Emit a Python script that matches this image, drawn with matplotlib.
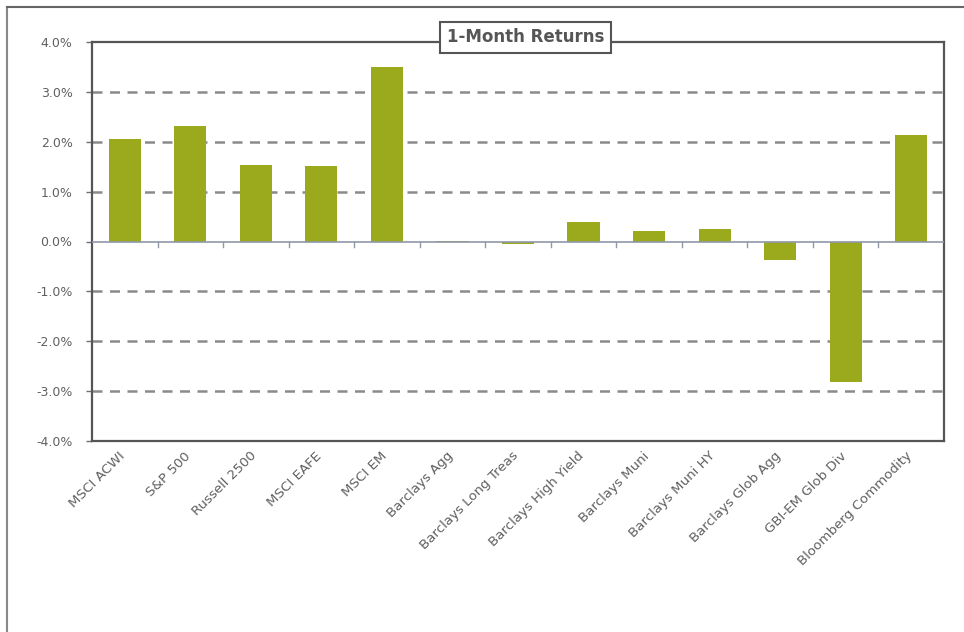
import numpy as np
import matplotlib.pyplot as plt
import matplotlib.transforms as mtransforms
from matplotlib.lines import Line2D
from matplotlib.ticker import FuncFormatter

# data (percent)
categories = ['MSCI ACWI', 'S&P 500', 'Russell 2500', 'MSCI EAFE', 'MSCI EM',
              'Barclays Agg', 'Barclays Long Treas', 'Barclays High Yield',
              'Barclays Muni', 'Barclays Muni HY', 'Barclays Glob Agg',
              'GBI-EM Glob Div', 'Bloomberg Commodity']
returns = [2.06, 2.31, 1.54, 1.52, 3.50, 0.02, -0.06, 0.40, 0.22, 0.26, -0.38, -2.82, 2.14]
yticks = [-4, -3, -2, -1, 0, 1, 2, 3, 4]

W, H = 964, 632
fig = plt.figure(figsize=(W / 100, H / 100), dpi=100)
ax = fig.add_axes([92 / W, 1 - 441 / H, (944 - 92) / W, (441 - 42) / H])

x = np.arange(len(categories))
ax.bar(x, returns, width=0.49, color='#9ba91c', zorder=3)

ax.set_xlim(-0.5, len(categories) - 0.5)
ax.set_ylim(-4, 4)
ax.set_yticks(yticks)
ax.yaxis.set_major_formatter(FuncFormatter(lambda v, p: '%.1f%%' % v))
ax.tick_params(axis='y', length=4, width=1, color='#707070', labelsize=9,
               labelcolor='#606060', pad=10)

# dashed gridlines
for v in yticks:
    if v not in (0, 4, -4):
        ax.axhline(v, color='#8a8a8a', lw=1.8, ls=(0, (4, 3)), zorder=1)
ax.axhline(0, color='#9098a8', lw=1.2, zorder=4)

# category ticks hanging from the zero line
for b in np.arange(0.5, len(categories) - 0.5, 1):
    ax.plot([b, b], [0, -0.12], color='#9098a8', lw=1, zorder=4, clip_on=False)

ax.set_xticks(x)
ax.set_xticklabels(categories, rotation=45, ha='right', rotation_mode='anchor',
                   fontsize=9.6, color='#606060')
ax.tick_params(axis='x', length=0, pad=6)
shift = mtransforms.ScaledTranslation(-6 / 100, 0, fig.dpi_scale_trans)
for lab in ax.get_xticklabels():
    lab.set_transform(lab.get_transform() + shift)

for s in ax.spines.values():
    s.set_color('#555555')
    s.set_linewidth(1.6)

ax.text(0.5085, 1.012, '1-Month Returns', transform=ax.transAxes, ha='center', va='center',
        fontsize=12, fontweight='bold', color='#555555', zorder=10,
        bbox=dict(boxstyle='square,pad=0.4', fc='white', ec='#555555', lw=1.5))

# outer frame of the picture
fig.add_artist(Line2D([7 / W, 7 / W], [0, 1 - 7 / H], color='#888888', lw=1.5))
fig.add_artist(Line2D([7 / W, 1], [1 - 7 / H, 1 - 7 / H], color='#666666', lw=1.5))

fig.savefig('out.png', dpi=100)
